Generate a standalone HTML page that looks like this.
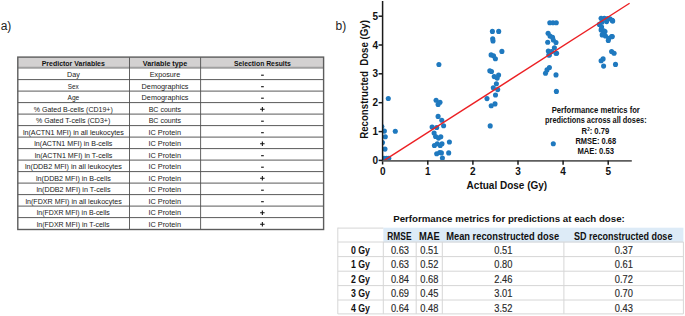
<!DOCTYPE html>
<html><head><meta charset="utf-8"><style>
html,body{margin:0;padding:0;background:#fff;width:685px;height:316px;overflow:hidden}
svg{display:block;font-family:"Liberation Sans",sans-serif}
</style></head><body>
<svg width="685" height="316" viewBox="0 0 685 316">
<rect width="685" height="316" fill="#fff"/>
<text x="0.7" y="30.3" font-size="12" text-anchor="start" fill="#222">a)</text>
<text x="335.6" y="30.3" font-size="12" text-anchor="start" fill="#222">b)</text>
<rect x="17.8" y="57.1" width="305.8" height="10.600000000000001" fill="#d3d1d1"/>
<line x1="17.8" x2="323.6" y1="79.60" y2="79.60" stroke="#5a5a5a" stroke-width="1"/>
<line x1="17.8" x2="323.6" y1="91.10" y2="91.10" stroke="#5a5a5a" stroke-width="1"/>
<line x1="17.8" x2="323.6" y1="102.60" y2="102.60" stroke="#5a5a5a" stroke-width="1"/>
<line x1="17.8" x2="323.6" y1="114.10" y2="114.10" stroke="#5a5a5a" stroke-width="1"/>
<line x1="17.8" x2="323.6" y1="125.60" y2="125.60" stroke="#5a5a5a" stroke-width="1"/>
<line x1="17.8" x2="323.6" y1="137.10" y2="137.10" stroke="#5a5a5a" stroke-width="1"/>
<line x1="17.8" x2="323.6" y1="148.60" y2="148.60" stroke="#5a5a5a" stroke-width="1"/>
<line x1="17.8" x2="323.6" y1="160.10" y2="160.10" stroke="#5a5a5a" stroke-width="1"/>
<line x1="17.8" x2="323.6" y1="171.60" y2="171.60" stroke="#5a5a5a" stroke-width="1"/>
<line x1="17.8" x2="323.6" y1="183.10" y2="183.10" stroke="#5a5a5a" stroke-width="1"/>
<line x1="17.8" x2="323.6" y1="194.60" y2="194.60" stroke="#5a5a5a" stroke-width="1"/>
<line x1="17.8" x2="323.6" y1="206.10" y2="206.10" stroke="#5a5a5a" stroke-width="1"/>
<line x1="17.8" x2="323.6" y1="217.60" y2="217.60" stroke="#5a5a5a" stroke-width="1"/>
<line x1="17.8" x2="323.6" y1="67.7" y2="67.7" stroke="#a0a0a0" stroke-width="1.9"/>
<line x1="129.5" x2="129.5" y1="57.1" y2="229.5" stroke="#505050" stroke-width="0.9"/>
<line x1="200.6" x2="200.6" y1="57.1" y2="229.5" stroke="#505050" stroke-width="0.9"/>
<rect x="17.8" y="57.1" width="305.8" height="172.4" fill="none" stroke="#5c5c5c" stroke-width="1.4"/>
<text x="73.3" y="65.8" font-size="7.4" font-weight="bold" text-anchor="middle" fill="#111" textLength="63.2" lengthAdjust="spacingAndGlyphs">Predictor Variables</text>
<text x="165" y="65.8" font-size="7.4" font-weight="bold" text-anchor="middle" fill="#111" textLength="44.3" lengthAdjust="spacingAndGlyphs">Variable type</text>
<text x="262.4" y="65.8" font-size="7.4" font-weight="bold" text-anchor="middle" fill="#111" textLength="56.8" lengthAdjust="spacingAndGlyphs">Selection Results</text>
<text x="73.4" y="77.4" font-size="7.5" text-anchor="middle" fill="#1a1a1a" textLength="12.8" lengthAdjust="spacingAndGlyphs">Day</text>
<text x="165.0" y="77.4" font-size="7.5" text-anchor="middle" fill="#1a1a1a" textLength="30.4" lengthAdjust="spacingAndGlyphs">Exposure</text>
<path d="M261.1 75.20H263.8" stroke="#111" stroke-width="1.1" fill="none"/>
<text x="73.3" y="88.9" font-size="7.5" text-anchor="middle" fill="#1a1a1a" textLength="11.0" lengthAdjust="spacingAndGlyphs">Sex</text>
<text x="165.05" y="88.9" font-size="7.5" text-anchor="middle" fill="#1a1a1a" textLength="46.9" lengthAdjust="spacingAndGlyphs">Demographics</text>
<path d="M261.1 86.70H263.8" stroke="#111" stroke-width="1.1" fill="none"/>
<text x="73.4" y="100.4" font-size="7.5" text-anchor="middle" fill="#1a1a1a" textLength="11.8" lengthAdjust="spacingAndGlyphs">Age</text>
<text x="165.05" y="100.4" font-size="7.5" text-anchor="middle" fill="#1a1a1a" textLength="46.9" lengthAdjust="spacingAndGlyphs">Demographics</text>
<path d="M261.1 98.20H263.8" stroke="#111" stroke-width="1.1" fill="none"/>
<text x="73.3" y="111.9" font-size="7.5" text-anchor="middle" fill="#1a1a1a" textLength="79.0" lengthAdjust="spacingAndGlyphs">% Gated B-cells (CD19+)</text>
<text x="164.9" y="111.9" font-size="7.5" text-anchor="middle" fill="#1a1a1a" textLength="32.4" lengthAdjust="spacingAndGlyphs">BC counts</text>
<path d="M260.1 109.30H264.6M262.35 107.10V111.50" stroke="#111" stroke-width="1.05" fill="none"/>
<text x="73.15" y="123.4" font-size="7.5" text-anchor="middle" fill="#1a1a1a" textLength="74.3" lengthAdjust="spacingAndGlyphs">% Gated T-cells (CD3+)</text>
<text x="164.9" y="123.4" font-size="7.5" text-anchor="middle" fill="#1a1a1a" textLength="32.4" lengthAdjust="spacingAndGlyphs">BC counts</text>
<path d="M261.1 121.20H263.8" stroke="#111" stroke-width="1.1" fill="none"/>
<text x="73.4" y="134.9" font-size="7.5" text-anchor="middle" fill="#1a1a1a" textLength="101.0" lengthAdjust="spacingAndGlyphs">ln(ACTN1 MFI) in all leukocytes</text>
<text x="164.7" y="134.9" font-size="7.5" text-anchor="middle" fill="#1a1a1a" textLength="32.6" lengthAdjust="spacingAndGlyphs">IC Protein</text>
<path d="M261.1 132.70H263.8" stroke="#111" stroke-width="1.1" fill="none"/>
<text x="73.35" y="146.4" font-size="7.5" text-anchor="middle" fill="#1a1a1a" textLength="78.1" lengthAdjust="spacingAndGlyphs">ln(ACTN1 MFI) in B-cells</text>
<text x="164.7" y="146.4" font-size="7.5" text-anchor="middle" fill="#1a1a1a" textLength="32.6" lengthAdjust="spacingAndGlyphs">IC Protein</text>
<path d="M260.1 143.80H264.6M262.35 141.60V146.00" stroke="#111" stroke-width="1.05" fill="none"/>
<text x="73.55" y="157.9" font-size="7.5" text-anchor="middle" fill="#1a1a1a" textLength="77.7" lengthAdjust="spacingAndGlyphs">ln(ACTN1 MFI) in T-cells</text>
<text x="164.7" y="157.9" font-size="7.5" text-anchor="middle" fill="#1a1a1a" textLength="32.6" lengthAdjust="spacingAndGlyphs">IC Protein</text>
<path d="M261.1 155.70H263.8" stroke="#111" stroke-width="1.1" fill="none"/>
<text x="73.4" y="169.4" font-size="7.5" text-anchor="middle" fill="#1a1a1a" textLength="97.0" lengthAdjust="spacingAndGlyphs">ln(DDB2 MFI) in all leukocytes</text>
<text x="164.7" y="169.4" font-size="7.5" text-anchor="middle" fill="#1a1a1a" textLength="32.6" lengthAdjust="spacingAndGlyphs">IC Protein</text>
<path d="M261.1 167.20H263.8" stroke="#111" stroke-width="1.1" fill="none"/>
<text x="73.4" y="180.9" font-size="7.5" text-anchor="middle" fill="#1a1a1a" textLength="74.8" lengthAdjust="spacingAndGlyphs">ln(DDB2 MFI) in B-cells</text>
<text x="164.7" y="180.9" font-size="7.5" text-anchor="middle" fill="#1a1a1a" textLength="32.6" lengthAdjust="spacingAndGlyphs">IC Protein</text>
<path d="M260.1 178.30H264.6M262.35 176.10V180.50" stroke="#111" stroke-width="1.05" fill="none"/>
<text x="73.5" y="192.4" font-size="7.5" text-anchor="middle" fill="#1a1a1a" textLength="74.0" lengthAdjust="spacingAndGlyphs">ln(DDB2 MFI) in T-cells</text>
<text x="164.7" y="192.4" font-size="7.5" text-anchor="middle" fill="#1a1a1a" textLength="32.6" lengthAdjust="spacingAndGlyphs">IC Protein</text>
<path d="M261.1 190.20H263.8" stroke="#111" stroke-width="1.1" fill="none"/>
<text x="73.6" y="203.9" font-size="7.5" text-anchor="middle" fill="#1a1a1a" textLength="96.4" lengthAdjust="spacingAndGlyphs">ln(FDXR MFI) in all leukocytes</text>
<text x="164.7" y="203.9" font-size="7.5" text-anchor="middle" fill="#1a1a1a" textLength="32.6" lengthAdjust="spacingAndGlyphs">IC Protein</text>
<path d="M261.1 201.70H263.8" stroke="#111" stroke-width="1.1" fill="none"/>
<text x="73.3" y="215.4" font-size="7.5" text-anchor="middle" fill="#1a1a1a" textLength="73.0" lengthAdjust="spacingAndGlyphs">ln(FDXR MFI) in B-cells</text>
<text x="164.7" y="215.4" font-size="7.5" text-anchor="middle" fill="#1a1a1a" textLength="32.6" lengthAdjust="spacingAndGlyphs">IC Protein</text>
<path d="M260.1 212.80H264.6M262.35 210.60V215.00" stroke="#111" stroke-width="1.05" fill="none"/>
<text x="73.15" y="226.9" font-size="7.5" text-anchor="middle" fill="#1a1a1a" textLength="72.7" lengthAdjust="spacingAndGlyphs">ln(FDXR MFI) in T-cells</text>
<text x="164.7" y="226.9" font-size="7.5" text-anchor="middle" fill="#1a1a1a" textLength="32.6" lengthAdjust="spacingAndGlyphs">IC Protein</text>
<path d="M260.1 224.30H264.6M262.35 222.10V226.50" stroke="#111" stroke-width="1.05" fill="none"/>
<defs><clipPath id="pc"><rect x="382.6" y="0" width="300" height="160.4"/></clipPath></defs>
<g clip-path="url(#pc)" fill="#1f79bf"><circle cx="388.3" cy="98.5" r="2.55"/><circle cx="384.4" cy="131.1" r="2.55"/><circle cx="395.3" cy="131.3" r="2.55"/><circle cx="381.9" cy="126.6" r="2.55"/><circle cx="385.3" cy="136.7" r="2.55"/><circle cx="382.5" cy="142.5" r="2.55"/><circle cx="385.0" cy="149.1" r="2.55"/><circle cx="384.0" cy="158.3" r="2.55"/><circle cx="386.5" cy="158.3" r="2.55"/><circle cx="388.8" cy="158.3" r="2.55"/><circle cx="438.9" cy="64.5" r="2.55"/><circle cx="436.1" cy="100.3" r="2.55"/><circle cx="440.0" cy="102.2" r="2.55"/><circle cx="438.1" cy="104.4" r="2.55"/><circle cx="438.1" cy="116.4" r="2.55"/><circle cx="441.8" cy="120.2" r="2.55"/><circle cx="443.6" cy="125.8" r="2.55"/><circle cx="432.1" cy="127.0" r="2.55"/><circle cx="436.7" cy="127.5" r="2.55"/><circle cx="434.1" cy="133.0" r="2.55"/><circle cx="435.6" cy="136.5" r="2.55"/><circle cx="438.5" cy="138.1" r="2.55"/><circle cx="440.8" cy="136.7" r="2.55"/><circle cx="449.4" cy="142.0" r="2.55"/><circle cx="434.4" cy="145.5" r="2.55"/><circle cx="437.3" cy="143.8" r="2.55"/><circle cx="440.2" cy="145.5" r="2.55"/><circle cx="442.0" cy="143.8" r="2.55"/><circle cx="436.7" cy="153.7" r="2.55"/><circle cx="439.7" cy="152.5" r="2.55"/><circle cx="441.4" cy="152.9" r="2.55"/><circle cx="448.7" cy="152.9" r="2.55"/><circle cx="442.4" cy="158.1" r="2.55"/><circle cx="492.4" cy="31.4" r="2.55"/><circle cx="498.7" cy="31.4" r="2.55"/><circle cx="492.7" cy="38.7" r="2.55"/><circle cx="493.0" cy="40.9" r="2.55"/><circle cx="501.9" cy="51.4" r="2.55"/><circle cx="491.1" cy="54.9" r="2.55"/><circle cx="493.5" cy="55.7" r="2.55"/><circle cx="495.4" cy="58.8" r="2.55"/><circle cx="489.8" cy="70.8" r="2.55"/><circle cx="491.5" cy="71.5" r="2.55"/><circle cx="494.2" cy="76.6" r="2.55"/><circle cx="498.6" cy="75.0" r="2.55"/><circle cx="497.2" cy="78.1" r="2.55"/><circle cx="496.4" cy="83.8" r="2.55"/><circle cx="493.3" cy="87.7" r="2.55"/><circle cx="497.7" cy="89.6" r="2.55"/><circle cx="495.5" cy="95.0" r="2.55"/><circle cx="487.0" cy="98.6" r="2.55"/><circle cx="491.2" cy="105.8" r="2.55"/><circle cx="495.0" cy="103.9" r="2.55"/><circle cx="490.2" cy="125.9" r="2.55"/><circle cx="549.8" cy="22.7" r="2.55"/><circle cx="553.0" cy="22.7" r="2.55"/><circle cx="556.3" cy="22.7" r="2.55"/><circle cx="548.1" cy="33.3" r="2.55"/><circle cx="550.0" cy="36.1" r="2.55"/><circle cx="552.5" cy="37.2" r="2.55"/><circle cx="553.3" cy="40.0" r="2.55"/><circle cx="547.7" cy="42.2" r="2.55"/><circle cx="556.0" cy="42.5" r="2.55"/><circle cx="554.4" cy="47.7" r="2.55"/><circle cx="548.3" cy="51.0" r="2.55"/><circle cx="551.6" cy="51.6" r="2.55"/><circle cx="556.0" cy="53.2" r="2.55"/><circle cx="549.4" cy="54.9" r="2.55"/><circle cx="548.8" cy="55.0" r="2.55"/><circle cx="556.6" cy="53.3" r="2.55"/><circle cx="549.4" cy="67.5" r="2.55"/><circle cx="547.0" cy="69.9" r="2.55"/><circle cx="545.5" cy="73.3" r="2.55"/><circle cx="556.0" cy="74.9" r="2.55"/><circle cx="556.4" cy="91.4" r="2.55"/><circle cx="553.3" cy="143.8" r="2.55"/><circle cx="601.1" cy="18.3" r="2.55"/><circle cx="604.4" cy="18.3" r="2.55"/><circle cx="607.6" cy="18.5" r="2.55"/><circle cx="609.9" cy="18.8" r="2.55"/><circle cx="612.3" cy="20.4" r="2.55"/><circle cx="612.7" cy="21.1" r="2.55"/><circle cx="606.6" cy="21.6" r="2.55"/><circle cx="601.9" cy="22.3" r="2.55"/><circle cx="599.4" cy="24.4" r="2.55"/><circle cx="601.6" cy="27.1" r="2.55"/><circle cx="601.1" cy="29.9" r="2.55"/><circle cx="603.8" cy="30.9" r="2.55"/><circle cx="605.0" cy="31.6" r="2.55"/><circle cx="602.8" cy="34.2" r="2.55"/><circle cx="602.2" cy="34.9" r="2.55"/><circle cx="605.5" cy="36.0" r="2.55"/><circle cx="611.6" cy="36.6" r="2.55"/><circle cx="612.3" cy="36.6" r="2.55"/><circle cx="608.8" cy="38.2" r="2.55"/><circle cx="608.3" cy="40.5" r="2.55"/><circle cx="611.6" cy="51.6" r="2.55"/><circle cx="614.1" cy="53.3" r="2.55"/><circle cx="603.1" cy="58.9" r="2.55"/><circle cx="601.1" cy="60.8" r="2.55"/><circle cx="615.5" cy="64.4" r="2.55"/><circle cx="603.6" cy="66.1" r="2.55"/></g>
<line x1="384.6" y1="160.1" x2="629.6" y2="3.3" stroke="#ec2024" stroke-width="1.35"/>
<line x1="382.6" y1="1" x2="382.6" y2="164.5" stroke="#1a1a1a" stroke-width="1.5"/>
<line x1="381.9" y1="160.95" x2="631.8" y2="160.95" stroke="#5e5e5e" stroke-width="1.8"/>
<line x1="378.6" x2="382.7" y1="160.4" y2="160.4" stroke="#1a1a1a" stroke-width="1.5"/>
<text x="378.0" y="164.0" font-size="10" font-weight="bold" text-anchor="end" fill="#111">0</text>
<text x="382.7" y="175.0" font-size="10" font-weight="bold" text-anchor="middle" fill="#111">0</text>
<line x1="378.6" x2="382.7" y1="131.6" y2="131.6" stroke="#1a1a1a" stroke-width="1.5"/>
<text x="378.0" y="135.2" font-size="10" font-weight="bold" text-anchor="end" fill="#111">1</text>
<line x1="427.8" x2="427.8" y1="160.4" y2="164.70000000000002" stroke="#1a1a1a" stroke-width="1.5"/>
<text x="427.8" y="175.0" font-size="10" font-weight="bold" text-anchor="middle" fill="#111">1</text>
<line x1="378.6" x2="382.7" y1="102.7" y2="102.7" stroke="#1a1a1a" stroke-width="1.5"/>
<text x="378.0" y="106.3" font-size="10" font-weight="bold" text-anchor="end" fill="#111">2</text>
<line x1="472.9" x2="472.9" y1="160.4" y2="164.70000000000002" stroke="#1a1a1a" stroke-width="1.5"/>
<text x="472.9" y="175.0" font-size="10" font-weight="bold" text-anchor="middle" fill="#111">2</text>
<line x1="378.6" x2="382.7" y1="73.8" y2="73.8" stroke="#1a1a1a" stroke-width="1.5"/>
<text x="378.0" y="77.4" font-size="10" font-weight="bold" text-anchor="end" fill="#111">3</text>
<line x1="518.0" x2="518.0" y1="160.4" y2="164.70000000000002" stroke="#1a1a1a" stroke-width="1.5"/>
<text x="518.0" y="175.0" font-size="10" font-weight="bold" text-anchor="middle" fill="#111">3</text>
<line x1="378.6" x2="382.7" y1="45.0" y2="45.0" stroke="#1a1a1a" stroke-width="1.5"/>
<text x="378.0" y="48.6" font-size="10" font-weight="bold" text-anchor="end" fill="#111">4</text>
<line x1="563.1" x2="563.1" y1="160.4" y2="164.70000000000002" stroke="#1a1a1a" stroke-width="1.5"/>
<text x="563.1" y="175.0" font-size="10" font-weight="bold" text-anchor="middle" fill="#111">4</text>
<line x1="378.6" x2="382.7" y1="16.2" y2="16.2" stroke="#1a1a1a" stroke-width="1.5"/>
<text x="378.0" y="19.8" font-size="10" font-weight="bold" text-anchor="end" fill="#111">5</text>
<line x1="608.2" x2="608.2" y1="160.4" y2="164.70000000000002" stroke="#1a1a1a" stroke-width="1.5"/>
<text x="608.2" y="175.0" font-size="10" font-weight="bold" text-anchor="middle" fill="#111">5</text>
<text x="506.9" y="189.2" font-size="10" font-weight="bold" text-anchor="middle" fill="#111" textLength="80.6" lengthAdjust="spacingAndGlyphs">Actual Dose (Gy)</text>
<text transform="translate(367.6,79.45) rotate(-90)" font-size="10" font-weight="bold" text-anchor="middle" fill="#111" textLength="118.6" lengthAdjust="spacingAndGlyphs" xml:space="preserve">Reconstructed  Dose (Gy)</text>
<text x="595.75" y="112.5" font-size="8.5" font-weight="bold" text-anchor="middle" fill="#111" textLength="88.1" lengthAdjust="spacingAndGlyphs">Performance metrics for</text>
<text x="595.85" y="122.8" font-size="8.5" font-weight="bold" text-anchor="middle" fill="#111" textLength="101.5" lengthAdjust="spacingAndGlyphs">predictions across all doses:</text>
<text x="595.45" y="133.5" font-size="8.5" font-weight="bold" text-anchor="middle" fill="#111" textLength="27.7" lengthAdjust="spacingAndGlyphs">R<tspan font-size="5" dy="-3">2</tspan><tspan dy="3">: 0.79</tspan></text>
<text x="595.75" y="143.8" font-size="8.5" font-weight="bold" text-anchor="middle" fill="#111" textLength="40.7" lengthAdjust="spacingAndGlyphs">RMSE: 0.68</text>
<text x="595.7" y="154.3" font-size="8.5" font-weight="bold" text-anchor="middle" fill="#111" textLength="36.6" lengthAdjust="spacingAndGlyphs">MAE: 0.53</text>
<text x="509.0" y="221.9" font-size="9.7" font-weight="bold" text-anchor="middle" fill="#111" textLength="231.6" lengthAdjust="spacingAndGlyphs">Performance metrics for predictions at each dose:</text>
<rect x="383.3" y="227.7" width="300.09999999999997" height="14.8" fill="#ddebf7"/>
<line x1="337.8" x2="383.3" y1="228.1" y2="228.1" stroke="#d6d6d6" stroke-width="1"/>
<line x1="337.8" x2="683.4" y1="242.0" y2="242.0" stroke="#d6d6d6" stroke-width="1"/>
<line x1="337.8" x2="683.4" y1="256.6" y2="256.6" stroke="#d6d6d6" stroke-width="1"/>
<line x1="337.8" x2="683.4" y1="271.2" y2="271.2" stroke="#d6d6d6" stroke-width="1"/>
<line x1="337.8" x2="683.4" y1="285.6" y2="285.6" stroke="#d6d6d6" stroke-width="1"/>
<line x1="337.8" x2="683.4" y1="300.0" y2="300.0" stroke="#d6d6d6" stroke-width="1"/>
<line x1="337.8" x2="683.4" y1="313.9" y2="313.9" stroke="#d6d6d6" stroke-width="1"/>
<line x1="337.8" x2="337.8" y1="227.6" y2="313.9" stroke="#d6d6d6" stroke-width="1"/>
<line x1="383.3" x2="383.3" y1="242.0" y2="313.9" stroke="#d6d6d6" stroke-width="1"/>
<line x1="416.2" x2="416.2" y1="242.0" y2="313.9" stroke="#d6d6d6" stroke-width="1"/>
<line x1="442.3" x2="442.3" y1="242.0" y2="313.9" stroke="#d6d6d6" stroke-width="1"/>
<line x1="563.9" x2="563.9" y1="242.0" y2="313.9" stroke="#d6d6d6" stroke-width="1"/>
<line x1="683.4" x2="683.4" y1="242.0" y2="313.9" stroke="#d6d6d6" stroke-width="1"/>
<text x="399.4" y="239.5" font-size="10" font-weight="bold" text-anchor="middle" fill="#111" textLength="24.2" lengthAdjust="spacingAndGlyphs">RMSE</text>
<text x="429.3" y="239.5" font-size="10" font-weight="bold" text-anchor="middle" fill="#111" textLength="20.8" lengthAdjust="spacingAndGlyphs">MAE</text>
<text x="502.65" y="239.5" font-size="10" font-weight="bold" text-anchor="middle" fill="#111" textLength="112.9" lengthAdjust="spacingAndGlyphs">Mean reconstructed dose</text>
<text x="623.15" y="239.5" font-size="10" font-weight="bold" text-anchor="middle" fill="#111" textLength="98.5" lengthAdjust="spacingAndGlyphs">SD reconstructed dose</text>
<text x="360.4" y="253.6" font-size="10" font-weight="bold" text-anchor="middle" fill="#111" textLength="19.0" lengthAdjust="spacingAndGlyphs">0 Gy</text>
<text x="400.0" y="253.6" font-size="10" text-anchor="middle" fill="#2a2a2a" textLength="18.1" lengthAdjust="spacingAndGlyphs" stroke="#2a2a2a" stroke-width="0.15">0.63</text>
<text x="429.4" y="253.6" font-size="10" text-anchor="middle" fill="#2a2a2a" textLength="18.1" lengthAdjust="spacingAndGlyphs" stroke="#2a2a2a" stroke-width="0.15">0.51</text>
<text x="503.3" y="253.6" font-size="10" text-anchor="middle" fill="#2a2a2a" textLength="18.1" lengthAdjust="spacingAndGlyphs" stroke="#2a2a2a" stroke-width="0.15">0.51</text>
<text x="623.8000000000001" y="253.6" font-size="10" text-anchor="middle" fill="#2a2a2a" textLength="18.1" lengthAdjust="spacingAndGlyphs" stroke="#2a2a2a" stroke-width="0.15">0.37</text>
<text x="360.4" y="268.2" font-size="10" font-weight="bold" text-anchor="middle" fill="#111" textLength="19.0" lengthAdjust="spacingAndGlyphs">1 Gy</text>
<text x="400.0" y="268.2" font-size="10" text-anchor="middle" fill="#2a2a2a" textLength="18.1" lengthAdjust="spacingAndGlyphs" stroke="#2a2a2a" stroke-width="0.15">0.63</text>
<text x="429.4" y="268.2" font-size="10" text-anchor="middle" fill="#2a2a2a" textLength="18.1" lengthAdjust="spacingAndGlyphs" stroke="#2a2a2a" stroke-width="0.15">0.52</text>
<text x="503.3" y="268.2" font-size="10" text-anchor="middle" fill="#2a2a2a" textLength="18.1" lengthAdjust="spacingAndGlyphs" stroke="#2a2a2a" stroke-width="0.15">0.80</text>
<text x="623.8000000000001" y="268.2" font-size="10" text-anchor="middle" fill="#2a2a2a" textLength="18.1" lengthAdjust="spacingAndGlyphs" stroke="#2a2a2a" stroke-width="0.15">0.61</text>
<text x="360.4" y="282.8" font-size="10" font-weight="bold" text-anchor="middle" fill="#111" textLength="19.0" lengthAdjust="spacingAndGlyphs">2 Gy</text>
<text x="400.0" y="282.8" font-size="10" text-anchor="middle" fill="#2a2a2a" textLength="18.1" lengthAdjust="spacingAndGlyphs" stroke="#2a2a2a" stroke-width="0.15">0.84</text>
<text x="429.4" y="282.8" font-size="10" text-anchor="middle" fill="#2a2a2a" textLength="18.1" lengthAdjust="spacingAndGlyphs" stroke="#2a2a2a" stroke-width="0.15">0.68</text>
<text x="503.3" y="282.8" font-size="10" text-anchor="middle" fill="#2a2a2a" textLength="18.1" lengthAdjust="spacingAndGlyphs" stroke="#2a2a2a" stroke-width="0.15">2.46</text>
<text x="623.8000000000001" y="282.8" font-size="10" text-anchor="middle" fill="#2a2a2a" textLength="18.1" lengthAdjust="spacingAndGlyphs" stroke="#2a2a2a" stroke-width="0.15">0.72</text>
<text x="360.4" y="297.2" font-size="10" font-weight="bold" text-anchor="middle" fill="#111" textLength="19.0" lengthAdjust="spacingAndGlyphs">3 Gy</text>
<text x="400.0" y="297.2" font-size="10" text-anchor="middle" fill="#2a2a2a" textLength="18.1" lengthAdjust="spacingAndGlyphs" stroke="#2a2a2a" stroke-width="0.15">0.69</text>
<text x="429.4" y="297.2" font-size="10" text-anchor="middle" fill="#2a2a2a" textLength="18.1" lengthAdjust="spacingAndGlyphs" stroke="#2a2a2a" stroke-width="0.15">0.45</text>
<text x="503.3" y="297.2" font-size="10" text-anchor="middle" fill="#2a2a2a" textLength="18.1" lengthAdjust="spacingAndGlyphs" stroke="#2a2a2a" stroke-width="0.15">3.01</text>
<text x="623.8000000000001" y="297.2" font-size="10" text-anchor="middle" fill="#2a2a2a" textLength="18.1" lengthAdjust="spacingAndGlyphs" stroke="#2a2a2a" stroke-width="0.15">0.70</text>
<text x="360.4" y="311.6" font-size="10" font-weight="bold" text-anchor="middle" fill="#111" textLength="19.0" lengthAdjust="spacingAndGlyphs">4 Gy</text>
<text x="400.0" y="311.6" font-size="10" text-anchor="middle" fill="#2a2a2a" textLength="18.1" lengthAdjust="spacingAndGlyphs" stroke="#2a2a2a" stroke-width="0.15">0.64</text>
<text x="429.4" y="311.6" font-size="10" text-anchor="middle" fill="#2a2a2a" textLength="18.1" lengthAdjust="spacingAndGlyphs" stroke="#2a2a2a" stroke-width="0.15">0.48</text>
<text x="503.3" y="311.6" font-size="10" text-anchor="middle" fill="#2a2a2a" textLength="18.1" lengthAdjust="spacingAndGlyphs" stroke="#2a2a2a" stroke-width="0.15">3.52</text>
<text x="623.8000000000001" y="311.6" font-size="10" text-anchor="middle" fill="#2a2a2a" textLength="18.1" lengthAdjust="spacingAndGlyphs" stroke="#2a2a2a" stroke-width="0.15">0.43</text>
</svg>
</body></html>
